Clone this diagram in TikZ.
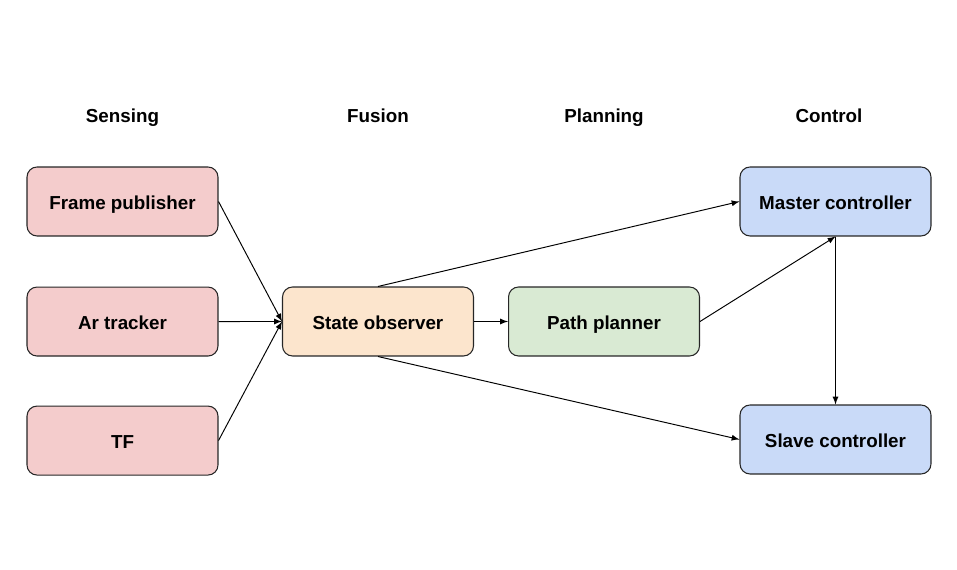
\documentclass[tikz,border=0pt]{standalone}
\usepackage{fontspec}
\setmainfont{Liberation Sans}
\usepackage{tikz}
\usetikzlibrary{positioning, arrows}

\definecolor{sensefill}{HTML}{F4CCCC}
\definecolor{fusefill}{HTML}{FCE5CD}
\definecolor{planfill}{HTML}{D9EAD3}
\definecolor{ctrlfill}{HTML}{C9DAF8}

\begin{document}
\begin{tikzpicture}[x=0.02cm, y=-0.02cm,
    block/.style={draw=black!85, line width=0.6pt, rounded corners=0.2cm,
        minimum width=3.82cm, minimum height=1.38cm,
        text height=2.1ex, text depth=0.45ex,
        font=\fontsize{10.7}{12}\selectfont\bfseries},
    title/.style={text height=2.1ex, text depth=0.45ex,
        font=\fontsize{10.7}{12}\selectfont\bfseries},
    link/.style={-latex, line width=0.55pt}]

    \useasboundingbox (0,0) rectangle (957,570);

    \node(fp)[block,fill=sensefill] at (122.5,201.5) {Frame publisher};
    \node(ar)[block,fill=sensefill,below=1.0cm of fp] {Ar tracker};
    \node(tf)[block,fill=sensefill,below=0.98cm of ar] {TF};

    \node(so)[block,fill=fusefill] at (378,321.5) {State observer};
    \node(pp)[block,fill=planfill,right=0.68cm of so] {Path planner};

    \node(mc)[block,fill=ctrlfill] at (835.5,201.5) {Master controller};
    \node(sc)[block,fill=ctrlfill] at (835.5,439.5) {Slave controller};

    \node(tsense)[title] at (122.5,115) {Sensing};
    \node(tfuse)[title] at (378,115) {Fusion};
    \node(tplan)[title] at (604,115) {Planning};
    \node(tctrl)[title] at (829,115) {Control};

    \draw (fp.east) edge[link] (so.west)
          (ar.east) edge[link] (so.west)
          (tf.east) edge[link] (so.west)
          (so.north) edge[link] (mc.west)
          (so.south) edge[link] (sc.west)
          (so.east) edge[link] (pp.west)
          (pp.east) edge[link] (mc.south)
          (mc.south) edge[link] (sc.north)
          ;

\end{tikzpicture}
\end{document}
